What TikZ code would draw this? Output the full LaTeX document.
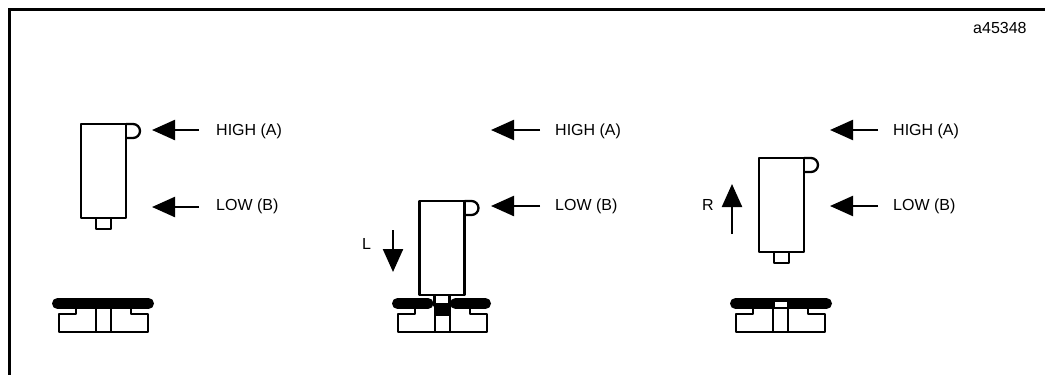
\documentclass[tikz,border=0pt]{standalone}
\usepackage{fontspec}
\setmainfont{Liberation Sans}
\usetikzlibrary{arrows.meta}
\tikzset{line/.style={line width=2.3pt},
         part/.style={line width=2.3pt, fill=white, line join=round},
         bar/.style={line width=11pt, line cap=round},
         hit/.style={line width=2.3pt, -{Triangle[length=23pt,width=20pt]}},
         tag/.style={font=\fontsize{16}{18}\selectfont, anchor=west, inner sep=0pt}
}
% pickup with its stub and its small cam, origin at top left of the body
\newcommand{\pickup}[2]{
       \draw[part] (#1+15,#2+94) rectangle (#1+30,#2+105);
       \draw[part] (#1,#2) rectangle (#1+45,#2+94);
       \draw[line] (#1+45,#2) -- (#1+52,#2) arc[start angle=-90, end angle=90, radius=7] -- (#1+45,#2+14);
}
% base with its slot, x at left of the foot
\newcommand{\footing}[1]{
       \draw[line, line join=round] (#1+17,309) -- (#1+17,314) -- (#1,314) -- (#1,332) -- (#1+89,332) -- (#1+89,314) -- (#1+72,314) -- (#1+72,309);
       \draw[line] (#1+37,309) -- (#1+37,332);
       \draw[line] (#1+52,309) -- (#1+52,332);
}
\begin{document}
\begin{tikzpicture}[x=1pt,y=-1pt]
       \useasboundingbox (0,0) rectangle (1045,375);
       \coordinate (fa) at (9.5,375);
       \coordinate (fb) at (9.5,9.5);
       \coordinate (fc) at (1045,9.5);
       \draw[line width=2.5pt] (fa) -- (fb) -- (fc);
       \node[tag] (code) at (973,28) {a45348};

       % left
       \pickup{81}{124}
       \footing{59}
       \draw[bar] (57.5,303.5) -- (148.5,303.5);
       \coordinate (a1) at (199,130);
       \coordinate (a2) at (152,130);
       \coordinate (b1) at (199,207);
       \coordinate (b2) at (152,207);
       \draw[hit] (a1) -- (a2);
       \draw[hit] (b1) -- (b2);
       \node[tag] (high1) at (216,131) {HIGH (A)};
       \node[tag] (low1) at (216,206) {LOW (B)};

       % middle
       \footing{398}
       \draw[bar] (397.5,303.5) -- (428,303.5);
       \draw[bar] (455.5,303.5) -- (485.5,303.5);
       \pickup{419.5}{201}
       \fill (434,303) rectangle (451,316);
       \coordinate (c1) at (540,130);
       \coordinate (c2) at (491,130);
       \coordinate (d1) at (540,206);
       \coordinate (d2) at (491,206);
       \draw[hit] (c1) -- (c2);
       \draw[hit] (d1) -- (d2);
       \coordinate (l1) at (393,230);
       \coordinate (l2) at (393,272);
       \draw[hit] (l1) -- (l2);
       \node[tag] (high2) at (555,131) {HIGH (A)};
       \node[tag] (low2) at (555,206) {LOW (B)};
       \node[tag] (ltag) at (362,244) {L};

       % right
       \pickup{759}{158}
       \footing{736}
       \draw[bar] (735.5,303.5) -- (826.5,303.5);
       \fill[white] (775,302) rectangle (787,306.5);
       \coordinate (e1) at (878,130);
       \coordinate (e2) at (830,130);
       \coordinate (f1) at (878,206);
       \coordinate (f2) at (830,206);
       \draw[hit] (e1) -- (e2);
       \draw[hit] (f1) -- (f2);
       \coordinate (r1) at (732,234);
       \coordinate (r2) at (732,184);
       \draw[hit] (r1) -- (r2);
       \node[tag] (high3) at (893,131) {HIGH (A)};
       \node[tag] (low3) at (893,206) {LOW (B)};
       \node[tag] (rtag) at (702,205) {R};
\end{tikzpicture}
\end{document}
